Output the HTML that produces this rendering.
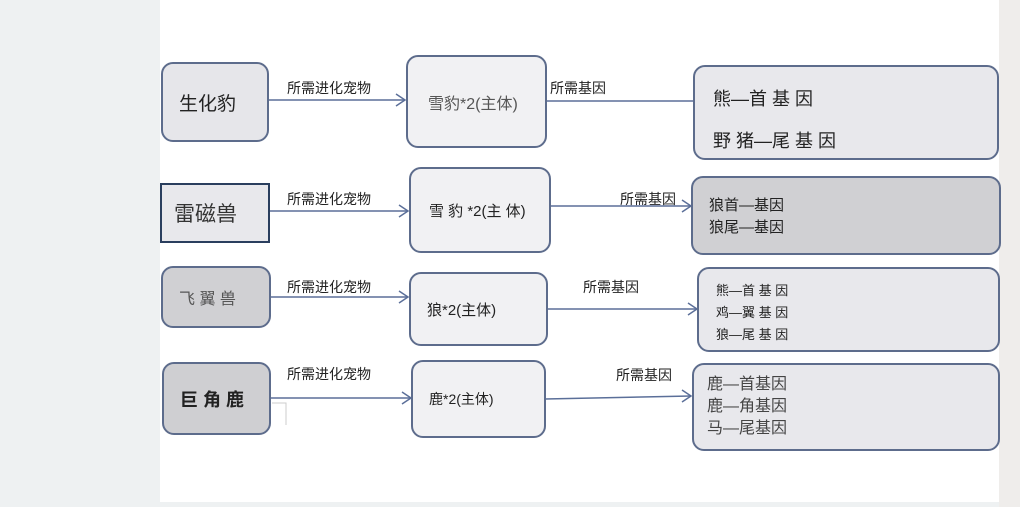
<!DOCTYPE html>
<html><head><meta charset="utf-8"><style>
body{margin:0;width:1020px;height:507px;overflow:hidden;background:#eef1f2;font-family:"Liberation Sans","Noto Sans CJK SC",sans-serif;position:relative}
.pg{position:absolute;left:160px;top:0;width:839px;height:502px;background:#fff}
.rt{position:absolute;left:999px;top:0;width:21px;height:507px;background:#efedeb}
.b{position:absolute;box-sizing:border-box;border:2px solid #5d6c8c;border-radius:12px;background:#f1f1f3;color:#222;display:flex;align-items:center}
.t{position:absolute;font-size:14px;color:#222;white-space:nowrap}
svg{position:absolute;left:0;top:0}
</style></head><body>
<div class="pg"></div><div class="rt"></div>
<svg width="1020" height="507"><g stroke="#5b6f99" stroke-width="1.5" fill="none">
<line x1="268" y1="100" x2="405" y2="100"/><path d="M396 94 L405 100 L396 106"/>
<line x1="547" y1="101" x2="693" y2="101"/>
<line x1="254" y1="211" x2="408" y2="211"/><path d="M399 205 L408 211 L399 217"/>
<line x1="550" y1="206" x2="691" y2="206"/><path d="M682 200 L691 206 L682 212"/>
<line x1="270" y1="297" x2="408" y2="297"/><path d="M399 291 L408 297 L399 303"/>
<line x1="547" y1="309" x2="697" y2="309"/><path d="M688 303 L697 309 L688 315"/>
<line x1="270" y1="398" x2="411" y2="398"/><path d="M402 392 L411 398 L402 404"/>
<line x1="545" y1="399" x2="691" y2="396"/><path d="M682 390 L691 396 L682 402"/>
</g><path d="M272 403 H286 V425" stroke="#ccc" fill="none"/></svg>

<div class="b" style="left:161px;top:62px;width:108px;height:80px;background:#e6e6ea;font-size:19px;padding-left:16px">生化豹</div>
<div class="b" style="left:406px;top:55px;width:141px;height:93px;padding-left:20px;font-size:16px;color:#555">雪豹*2(主体)</div>
<div class="b" style="left:693px;top:65px;width:306px;height:95px;background:#e8e8ec;display:block;font-size:18px;padding:11px 0 0 18px;line-height:42px">熊—首 基 因<br>野 猪—尾 基 因</div>

<div class="b" style="left:160px;top:183px;width:110px;height:60px;border-radius:0;border-color:#2a3e5e;background:#e8e8ec;font-size:21px;padding-left:12px;color:#333">雷磁兽</div>
<div class="b" style="left:409px;top:167px;width:142px;height:86px;padding-left:18px;font-size:15px">雪 豹 *2(主 体)</div>
<div class="b" style="left:691px;top:176px;width:310px;height:79px;background:#d0d0d3;display:block;font-size:15px;padding:17px 0 0 16px;line-height:22px">狼首—基因<br>狼尾—基因</div>

<div class="b" style="left:161px;top:266px;width:110px;height:62px;background:#d0d0d3;font-size:16px;padding-left:16px;color:#555">飞 翼 兽</div>
<div class="b" style="left:409px;top:272px;width:139px;height:74px;padding-left:16px;font-size:15px">狼*2(主体)</div>
<div class="b" style="left:697px;top:267px;width:303px;height:85px;background:#e8e8ec;display:block;font-size:13px;padding:11px 0 0 17px;line-height:22px">熊—首 基 因<br>鸡—翼 基 因<br>狼—尾 基 因</div>

<div class="b" style="left:162px;top:362px;width:109px;height:73px;background:#cfcfd2;font-size:18px;padding-left:16px;font-weight:bold">巨 角 鹿</div>
<div class="b" style="left:411px;top:360px;width:135px;height:78px;padding-left:16px;font-size:14px">鹿*2(主体)</div>
<div class="b" style="left:692px;top:363px;width:308px;height:88px;background:#e8e8ec;display:block;font-size:16px;padding:9px 0 0 13px;line-height:22px;color:#444">鹿—首基因<br>鹿—角基因<br>马—尾基因</div>

<div class="t" style="left:287px;top:78px">所需进化宠物</div>
<div class="t" style="left:550px;top:78px">所需基因</div>
<div class="t" style="left:287px;top:189px">所需进化宠物</div>
<div class="t" style="left:620px;top:189px">所需基因</div>
<div class="t" style="left:287px;top:277px">所需进化宠物</div>
<div class="t" style="left:583px;top:277px">所需基因</div>
<div class="t" style="left:287px;top:364px">所需进化宠物</div>
<div class="t" style="left:616px;top:365px">所需基因</div>
</body></html>
